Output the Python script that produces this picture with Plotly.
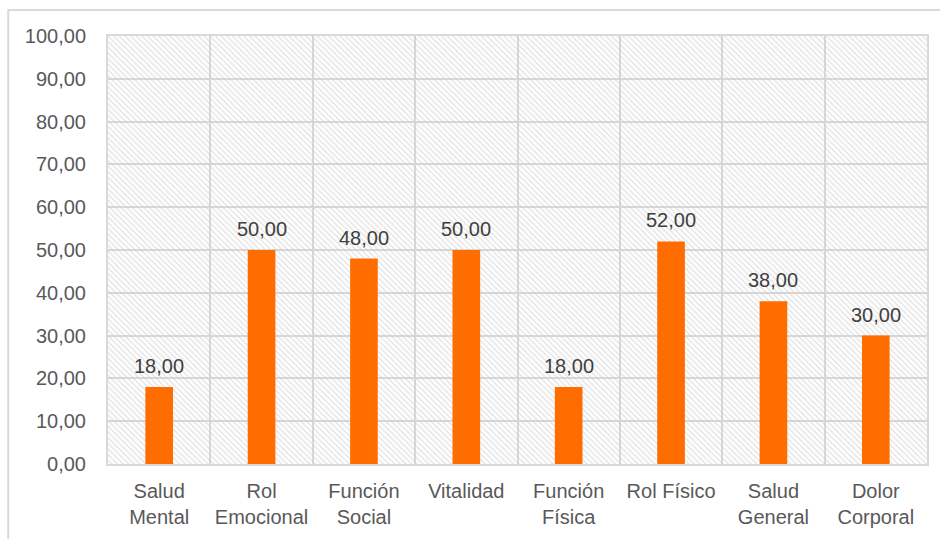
import plotly.graph_objects as go

categories = ["Salud<br>Mental", "Rol<br>Emocional", "Función<br>Social", "Vitalidad",
              "Función<br>Física", "Rol Físico", "Salud<br>General", "Dolor<br>Corporal"]
values = [18, 50, 48, 50, 18, 52, 38, 30]
y_ticks = [0, 10, 20, 30, 40, 50, 60, 70, 80, 90, 100]
y_tick_labels = ["0,00", "10,00", "20,00", "30,00", "40,00", "50,00",
                 "60,00", "70,00", "80,00", "90,00", "100,00"]
y_max = 100

labels = [f"{v:.2f}".replace(".", ",") for v in values]

fig = go.Figure()
# hatched background
fig.add_trace(go.Bar(
    x=categories, y=[y_max] * len(categories), width=1,
    marker=dict(color="rgba(0,0,0,0)", line=dict(width=0),
                pattern=dict(shape="\\", fgcolor="#c8c8c8", bgcolor="rgba(255,255,255,0)",
                             size=4, solidity=0.35, fillmode="overlay")),
    hoverinfo="skip", showlegend=False,
))
fig.add_trace(go.Bar(
    x=categories, y=values, width=0.27,
    marker=dict(color="#FF6D00", line=dict(width=0)),
    showlegend=False,
))

annotations = [dict(x=c, y=v, text=t, showarrow=False, yanchor="bottom", yshift=8,
                    font=dict(size=20, color="#404040"))
               for c, v, t in zip(categories, values, labels)]

fig.update_layout(
    width=940, height=539,
    margin=dict(l=108, r=11, t=36, b=73),
    paper_bgcolor="white", plot_bgcolor="white",
    barmode="overlay",
    font=dict(family="Liberation Sans, Arial", size=20, color="#595959"),
    xaxis=dict(type="category", tickson="boundaries", showgrid=True,
               gridcolor="#d9d9d9", gridwidth=2, ticks="", ticklen=0,
               showline=True, linecolor="#d9d9d9", linewidth=2, mirror=True,
               tickfont=dict(size=20, color="#595959"), ticklabelstandoff=8),
    yaxis=dict(range=[0, y_max], tickvals=y_ticks, ticktext=y_tick_labels,
               showgrid=True, gridcolor="#d9d9d9", gridwidth=2, zeroline=False,
               showline=True, linecolor="#d9d9d9", linewidth=2, mirror=True,
               ticks="", tickfont=dict(size=20, color="#595959"), ticklabelstandoff=16),
    annotations=annotations,
    shapes=[dict(type="rect", xref="paper", yref="paper",
                 x0=(8 - 108) / 821, x1=(945 - 108) / 821,
                 y0=(466 - 545) / 430, y1=(466 - 10) / 430,
                 line=dict(color="#d9d9d9", width=2), fillcolor="rgba(0,0,0,0)", layer="below")],
)

fig.write_html("out.html")
